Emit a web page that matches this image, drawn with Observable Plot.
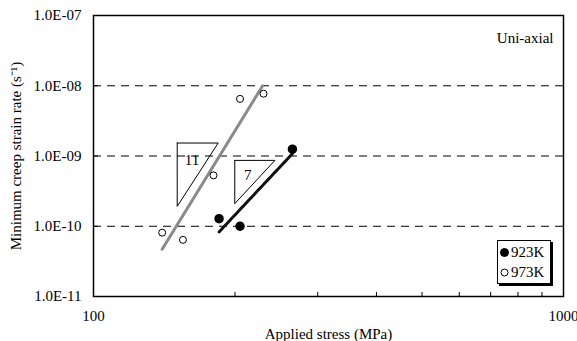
<!DOCTYPE html>
<html>
<head>
<meta charset="utf-8">
<script src="https://cdn.jsdelivr.net/npm/d3@7"></script>
<script src="https://cdn.jsdelivr.net/npm/@observablehq/plot@0.6"></script>
<style>
  html, body { margin: 0; padding: 0; background: #fff; }
  #wrap { position: relative; width: 577px; height: 341px; font-family: "Liberation Serif", "Times New Roman", serif; }
  #legend { position: absolute; left: 497px; top: 240px; width: 52px; height: 41px; border: 1px solid #000; box-shadow: 2px 2px 0 #000; background: #fff; font-size: 15px; line-height: 20px; padding-top: 1px; }
  #legend .row { display: flex; align-items: center; height: 20px; }
  #legend svg { margin-left: 2px; margin-right: 2px; }
</style>
</head>
<body>
<div id="wrap"></div>
<script>
// ---- data ----
const stress923 = [185, 205, 265];
const rate923 = [1.28e-10, 1.0e-10, 1.25e-9];
const stress973 = [140, 155, 180, 205, 230];
const rate973 = [8.1e-11, 6.4e-11, 5.3e-10, 6.5e-9, 7.7e-9];
const fit923Stress = [185, 265];
const fit923Rate = [8.3e-11, 1.08e-9];
const fit973Stress = [140, 229];
const fit973Rate = [4.7e-11, 1.0e-8];
const tri11Stress = [150.7, 184.2, 150.7, 150.7];
const tri11Rate = [1.53e-9, 1.53e-9, 1.92e-10, 1.53e-9];
const tri7Stress = [199.8, 243.2, 199.8, 199.8];
const tri7Rate = [8.66e-10, 8.66e-10, 2.10e-10, 8.66e-10];
const slopeText = ["11", "7"];
const slopeStress = [162, 213];
const slopeRate = [8.7e-10, 5.4e-10];
const xLabelTicks = [100, 1000];
const xMinorTicks = [200, 300, 400, 500, 600, 700, 800, 900];
const yTicks = [1e-11, 1e-10, 1e-9, 1e-8, 1e-7];
const gridRates = [1e-10, 1e-9, 1e-8];
const seriesNames = ["923K", "973K"];
const annotation = ["Uni-axial"];

const zip = (xs, ys) => xs.map((x, i) => ({x, y: ys[i]}));
const fmtE = d => "1.0E-" + String(Math.round(-Math.log10(d))).padStart(2, "0");

const chart = Plot.plot({
  width: 577,
  height: 341,
  marginLeft: 93,
  marginRight: 14,
  marginTop: 15,
  marginBottom: 45,
  style: {fontFamily: "'Liberation Serif', 'Times New Roman', serif", fontSize: "15px", color: "#000", background: "#fff", overflow: "visible"},
  x: {type: "log", domain: [100, 1000]},
  y: {type: "log", domain: [1e-11, 1e-7]},
  marks: [
    Plot.ruleY(gridRates, {stroke: "#000", strokeWidth: 1, strokeDasharray: "8,6"}),
    Plot.axisY(yTicks, {tickSize: 0, tickPadding: 12, tickFormat: fmtE, label: "Minimum creep strain rate (s⁻¹)", labelAnchor: "center", labelOffset: 83, labelArrow: "none"}),
    Plot.axisY(yTicks, {tickSize: -5, tickFormat: () => "", label: null}),
    Plot.axisX(xLabelTicks, {tickSize: 0, tickPadding: 14, tickFormat: d => String(d), label: "Applied stress (MPa)", labelAnchor: "center", labelOffset: 42, labelArrow: "none"}),
    Plot.axisX(xMinorTicks, {tickSize: -4, tickFormat: () => "", label: null}),
    Plot.frame({stroke: "#000", strokeWidth: 1.5}),
    Plot.line(zip(tri11Stress, tri11Rate), {x: "x", y: "y", stroke: "#000", strokeWidth: 1}),
    Plot.line(zip(tri7Stress, tri7Rate), {x: "x", y: "y", stroke: "#000", strokeWidth: 1}),
    Plot.text(slopeText.map((t, i) => ({t, x: slopeStress[i], y: slopeRate[i]})), {x: "x", y: "y", text: "t", fill: "#000"}),
    Plot.line(zip(fit973Stress, fit973Rate), {x: "x", y: "y", stroke: "#8a8a8a", strokeWidth: 3}),
    Plot.line(zip(fit923Stress, fit923Rate), {x: "x", y: "y", stroke: "#111", strokeWidth: 3, strokeDasharray: "3,1"}),
    Plot.dot(zip(stress973, rate973), {x: "x", y: "y", r: 3.5, fill: "#fff", stroke: "#000", strokeWidth: 1}),
    Plot.dot(zip(stress923, rate923), {x: "x", y: "y", r: 4, fill: "#000", stroke: "#000"}),
    Plot.text(annotation, {frameAnchor: "top-right", dx: -10, dy: 17, textAnchor: "end", fill: "#000"})
  ]
});

const wrap = document.getElementById("wrap");
wrap.appendChild(chart);

const legend = document.createElement("div");
legend.id = "legend";
seriesNames.forEach((name, i) => {
  const row = document.createElement("div");
  row.className = "row";
  const filled = i === 0;
  row.innerHTML = `<svg width="9" height="9"><circle cx="4.5" cy="4.5" r="${filled ? 4 : 3.5}" fill="${filled ? "#000" : "#fff"}" stroke="#000" stroke-width="1"/></svg><span>${name}</span>`;
  legend.appendChild(row);
});
wrap.appendChild(legend);
</script>
</body>
</html>
